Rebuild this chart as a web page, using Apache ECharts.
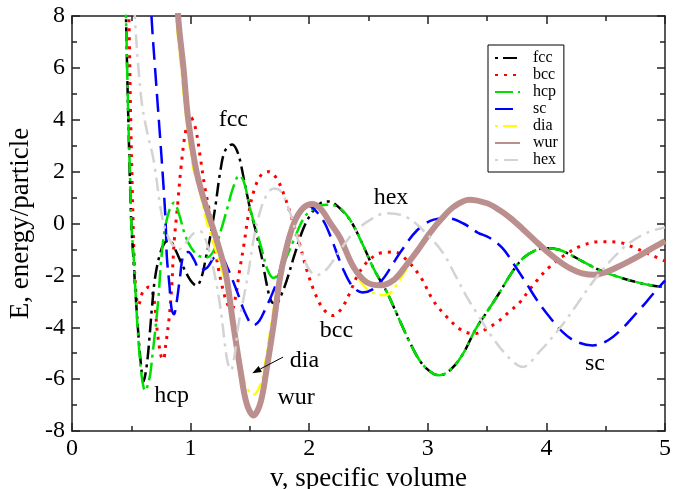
<!DOCTYPE html>
<html>
<head>
<meta charset="UTF-8">
<script type="text/javascript" src="https://cdn.jsdelivr.net/npm/echarts@6/dist/echarts.min.js"></script>
<title>E vs v</title>
<style>body{margin:0;background:#fff;}</style>
</head>
<body>
	<div id="main" style="width:692px;height:489px;"></div>
	<script type="text/javascript">
		// [v, E] pairs
		var fcc = [[0.44,11],[0.455,8],[0.475,4],[0.50,0],[0.52,-1.5],[0.54,-3],[0.565,-4.6],[0.585,-5.6],[0.60,-6.1],[0.615,-5.9],[0.635,-5.3],[0.655,-4.3],[0.675,-3.2],[0.70,-2.1],[0.74,-1.2],[0.78,-0.75],[0.82,-0.65],[0.87,-1.0],[0.93,-1.6],[1.0,-2.2],[1.05,-2.4],[1.09,-2.1],[1.13,-1.3],[1.17,-0.4],[1.21,0.7],[1.25,2.0],[1.29,2.8],[1.35,3.05],[1.40,2.7],[1.45,1.7],[1.5,0.6],[1.55,-0.3],[1.60,-1.3],[1.64,-2.3],[1.68,-3.0],[1.72,-3.1],[1.76,-2.8],[1.81,-2.2],[1.88,-1.15],[1.95,-0.2],[2.02,0.4],[2.1,0.8],[2.17,0.85]];
		var hcp = [[0.435,11],[0.455,8],[0.475,4],[0.49,1.7],[0.50,0],[0.52,-1.3],[0.535,-2.6],[0.56,-4.5],[0.585,-5.8],[0.605,-6.35],[0.62,-6.45],[0.64,-6.2],[0.66,-5.8],[0.68,-5.0],[0.70,-4.2],[0.73,-2.8],[0.75,-1.5],[0.78,-0.3],[0.82,0.5],[0.86,0.8],[0.9,0.4],[0.95,-0.4],[1.0,-0.9],[1.07,-1.25],[1.14,-1.3],[1.2,-1.0],[1.26,-0.2],[1.31,0.6],[1.36,1.4],[1.41,1.85],[1.45,1.6],[1.5,0.6],[1.55,-0.2],[1.6,-1.0],[1.65,-1.8],[1.7,-2.1],[1.75,-1.9],[1.8,-1.4],[1.87,-0.64],[1.96,0.25],[2.05,0.6],[2.14,0.72]];
		// fcc and hcp lie on top of each other beyond v ~ 2.2
		var fccHcpTail = [[2.25,0.62],[2.35,0.1],[2.45,-0.8],[2.55,-1.8],[2.65,-2.6],[2.75,-3.6],[2.85,-4.6],[2.95,-5.4],[3.05,-5.8],[3.1,-5.85],[3.2,-5.6],[3.3,-5.0],[3.4,-4.1],[3.5,-3.4],[3.6,-2.7],[3.7,-1.95],[3.8,-1.35],[3.9,-1.05],[4.0,-0.95],[4.1,-1.0],[4.2,-1.2],[4.3,-1.45],[4.45,-1.8],[4.6,-2.05],[4.75,-2.25],[4.9,-2.4],[5.0,-2.45]];
		var bcc = [[0.465,11],[0.48,8],[0.495,4],[0.51,1],[0.525,-1.5],[0.54,-2.7],[0.56,-3.15],[0.6,-2.6],[0.65,-2.45],[0.69,-2.9],[0.72,-4.2],[0.75,-5.1],[0.77,-5.25],[0.79,-4.7],[0.82,-3.6],[0.84,-2.5],[0.86,-0.8],[0.89,0.7],[0.92,2.2],[0.96,3.6],[1.0,4.1],[1.04,3.7],[1.08,2.6],[1.12,1.4],[1.17,0.2],[1.21,-1.1],[1.26,-2.3],[1.31,-3.1],[1.35,-3.3],[1.38,-2.8],[1.41,-1.9],[1.45,-0.8],[1.49,0.4],[1.54,1.35],[1.6,1.9],[1.66,2.0],[1.73,1.7],[1.8,0.95],[1.86,0.1],[1.92,-0.8],[1.98,-1.8],[2.05,-2.7],[2.12,-3.3],[2.2,-3.55],[2.27,-3.3],[2.34,-2.7],[2.42,-1.9],[2.52,-1.35],[2.62,-1.12],[2.72,-1.1],[2.82,-1.4],[2.94,-2.07],[3.05,-3.0],[3.16,-3.6],[3.28,-4.1],[3.39,-4.25],[3.5,-4.05],[3.6,-3.75],[3.7,-3.35],[3.77,-3.07],[3.85,-2.6],[3.92,-2.2],[4.02,-1.7],[4.16,-1.2],[4.3,-0.85],[4.45,-0.7],[4.6,-0.72],[4.75,-0.95],[4.9,-1.25],[5.0,-1.45]];
		var sc = [[0.64,11],[0.67,8],[0.70,6.0],[0.74,3.5],[0.77,1.55],[0.79,0],[0.80,-1.3],[0.82,-2.3],[0.84,-3.3],[0.86,-3.5],[0.88,-3.1],[0.91,-2.1],[0.94,-1.2],[0.98,-1.1],[1.03,-1.4],[1.08,-1.8],[1.14,-1.7],[1.2,-1.3],[1.25,-1.25],[1.31,-1.7],[1.39,-2.6],[1.46,-3.45],[1.53,-3.93],[1.58,-3.75],[1.63,-3.3],[1.68,-2.8],[1.73,-2.2],[1.79,-1.1],[1.84,-0.25],[1.91,0.43],[1.97,0.7],[2.03,0.6],[2.12,0.1],[2.18,-0.5],[2.29,-1.8],[2.37,-2.45],[2.45,-2.66],[2.53,-2.55],[2.62,-2.15],[2.70,-1.6],[2.77,-1.1],[2.91,-0.26],[3.05,0.15],[3.17,0.2],[3.3,0.0],[3.42,-0.35],[3.52,-0.55],[3.63,-0.95],[3.73,-1.6],[3.83,-2.3],[3.92,-2.95],[4.0,-3.45],[4.14,-4.2],[4.25,-4.55],[4.39,-4.7],[4.52,-4.5],[4.64,-4.05],[4.75,-3.5],[4.84,-3.04],[4.92,-2.6],[5.0,-2.2]];
		var dia = [[0.86,11],[0.88,8],[0.92,6.0],[0.96,4.2],[1.02,2.2],[1.08,1.2],[1.14,0],[1.19,-0.7],[1.25,-1.6],[1.30,-2.4],[1.36,-3.9],[1.42,-5.4],[1.47,-6.3],[1.53,-6.6],[1.58,-6.3],[1.62,-5.6],[1.68,-3.9],[1.74,-2.2],[1.80,-1.0],[1.87,0.05],[1.95,0.6],[2.03,0.78],[2.1,0.6],[2.18,0.0],[2.26,-0.6],[2.37,-1.7],[2.46,-2.4],[2.55,-2.7],[2.62,-2.76],[2.68,-2.7],[2.76,-2.2],[2.84,-1.6],[2.92,-1.0],[3.0,-0.5],[3.1,0.1],[3.2,0.55],[3.3,0.8],[3.38,0.85],[3.5,0.72],[3.6,0.48],[3.7,0.15],[3.8,-0.25],[3.9,-0.65],[4.0,-1.05],[4.1,-1.4],[4.2,-1.68],[4.3,-1.85],[4.4,-1.92],[4.5,-1.85],[4.6,-1.65],[4.7,-1.42],[4.8,-1.18],[4.9,-0.92],[5.0,-0.68]];
		var wur = [[0.87,11],[0.895,8],[0.94,6.0],[0.98,4.0],[1.05,2.0],[1.12,0.8],[1.19,-0.2],[1.25,-1.1],[1.30,-2.0],[1.36,-3.9],[1.42,-5.65],[1.47,-6.9],[1.53,-7.4],[1.59,-6.9],[1.64,-5.65],[1.70,-3.9],[1.75,-2.2],[1.80,-1.1],[1.87,0.0],[1.95,0.6],[2.03,0.75],[2.1,0.55],[2.18,0.0],[2.26,-0.55],[2.37,-1.65],[2.48,-2.25],[2.6,-2.38],[2.72,-2.15],[2.82,-1.6],[2.92,-1.0],[3.02,-0.35],[3.12,0.2],[3.22,0.65],[3.35,0.92],[3.5,0.78],[3.6,0.53],[3.7,0.2],[3.8,-0.21],[3.9,-0.64],[4.0,-1.06],[4.1,-1.43],[4.2,-1.73],[4.3,-1.92],[4.4,-1.98],[4.5,-1.88],[4.6,-1.68],[4.7,-1.45],[4.8,-1.2],[4.9,-0.93],[5.0,-0.68]];
		var hex = [[0.51,11],[0.53,8],[0.56,6.0],[0.59,4.6],[0.63,3.6],[0.69,2.4],[0.75,0.5],[0.8,-0.4],[0.86,-0.9],[0.9,-1.0],[0.96,-0.75],[1.02,-0.4],[1.08,-0.3],[1.14,-0.8],[1.2,-1.9],[1.25,-3.2],[1.28,-4.3],[1.31,-5.3],[1.34,-5.65],[1.37,-5.1],[1.40,-4.0],[1.45,-2.8],[1.49,-1.8],[1.53,-0.64],[1.57,0.2],[1.63,1.0],[1.7,1.35],[1.76,1.25],[1.84,0.4],[1.92,-0.84],[1.99,-1.7],[2.06,-2.0],[2.15,-1.75],[2.26,-1.03],[2.37,-0.38],[2.51,0.13],[2.65,0.4],[2.82,0.25],[2.99,-0.4],[3.13,-1.15],[3.24,-2.07],[3.33,-2.84],[3.41,-3.43],[3.55,-4.43],[3.69,-5.2],[3.8,-5.53],[3.94,-4.95],[4.11,-4.05],[4.27,-3.04],[4.39,-2.26],[4.56,-1.34],[4.7,-0.75],[4.85,-0.35],[5.0,-0.15]];

		var xTicks = [0, 1, 2, 3, 4, 5];
		var yTicks = [-8, -6, -4, -2, 0, 2, 4, 6, 8];

		// text labels on the plot, placed in data units
		var notes = [
			{text:'fcc', at:[1.36, 4.02]},
			{text:'hex', at:[2.69, 1.01]},
			{text:'bcc', at:[2.23, -4.15]},
			{text:'dia', at:[1.96, -5.28]},
			{text:'hcp', at:[0.84, -6.62]},
			{text:'wur', at:[1.89, -6.70]},
			{text:'sc',  at:[4.41, -5.42]}
		];
		var arrowFrom = [1.78, -5.15], arrowTo = [1.52, -5.77];

		var serif = 'Liberation Serif';
		var myChart = echarts.init(document.getElementById("main"));

		function axisX(pos, labels) {
			return {
				type:'value', position:pos, min:xTicks[0], max:xTicks[xTicks.length-1], interval:1,
				axisLine:{show:true, onZero:false, lineStyle:{color:'#222', width:1.5}},
				axisTick:{show:true, inside:true, length:8, lineStyle:{color:'#222', width:1.5}},
				minorTick:{show:true, splitNumber:2, length:5, lineStyle:{color:'#222', width:1.5}},
				splitLine:{show:false},
				axisLabel:{show:labels, color:'#000', fontFamily:serif, fontSize:24, margin:6},
				name: labels ? 'v, specific volume' : '', nameLocation:'middle', nameGap:31,
				nameTextStyle:{color:'#000', fontFamily:serif, fontSize:27}
			};
		}
		function axisY(pos, labels) {
			return {
				type:'value', position:pos, min:yTicks[0], max:yTicks[yTicks.length-1], interval:2,
				axisLine:{show:true, onZero:false, lineStyle:{color:'#222', width:1.5}},
				axisTick:{show:true, inside:true, length:8, lineStyle:{color:'#222', width:1.5}},
				minorTick:{show:true, splitNumber:2, length:5, lineStyle:{color:'#222', width:1.5}},
				splitLine:{show:false},
				axisLabel:{show:labels, color:'#000', fontFamily:serif, fontSize:24, margin:7},
				name: labels ? 'E, energy/particle' : '', nameLocation:'middle', nameGap:38,
				nameTextStyle:{color:'#000', fontFamily:serif, fontSize:27}
			};
		}
		function line(name, data, color, width, dash, z) {
			return {
				name:name, type:'line', data:data, smooth:0.35,
				symbol:'none', showSymbol:false, clip:true, z:z, animation:false,
				lineStyle:{color:color, width:width, type:dash},
				itemStyle:{color:color}
			};
		}

		var option = {
			animation:false,
			backgroundColor:'#fff',
			grid:{left:72, right:27, top:16, bottom:58, containLabel:false, outerBoundsMode:'none'},
			xAxis:[axisX('bottom', true), axisX('top', false)],
			yAxis:[axisY('left', true), axisY('right', false)],
			legend:{
				orient:'vertical', left:488, top:45, padding:[5,6,4,6],
				borderColor:'#000', borderWidth:1, backgroundColor:'#fff',
				itemWidth:25, itemHeight:6, itemGap:1,
				itemStyle:{opacity:0, borderWidth:0},
				textStyle:{fontFamily:serif, fontSize:16, color:'#000', padding:[0,0,0,8], lineHeight:14},
				data:['fcc','bcc','hcp','sc','dia','wur','hex']
			},
			series:[
				line('fcc', fcc.concat(fccHcpTail), '#000000', 2.5, [3,5,14,5], 3),
				line('bcc', bcc, '#ff0000', 3, [3,6], 2),
				line('hcp', hcp.concat(fccHcpTail), '#00e000', 2.5, [18,5,3,5], 4),
				line('sc', sc, '#0000ff', 2.5, [18,8], 5),
				line('dia', dia, '#ffff00', 2.5, [3,5,14,5], 6),
				line('wur', wur, '#bc8f8f', 6, 'solid', 7),
				line('hex', hex, '#d3d3d3', 2.5, [3,6,14,6], 8)
			]
		};
		myChart.setOption(option);

		var g = [];
		notes.forEach(function (n) {
			var p = myChart.convertToPixel({xAxisIndex:0, yAxisIndex:0}, n.at);
			g.push({type:'text', x:p[0], y:p[1], z:100,
				style:{text:n.text, fill:'#000', font:'24px "Liberation Serif"', align:'center', verticalAlign:'middle'}});
		});
		var a = myChart.convertToPixel({xAxisIndex:0, yAxisIndex:0}, arrowFrom);
		var b = myChart.convertToPixel({xAxisIndex:0, yAxisIndex:0}, arrowTo);
		var ang = Math.atan2(b[1]-a[1], b[0]-a[0]), h = 9, w = 3.5;
		var bx = b[0] - h*Math.cos(ang), by = b[1] - h*Math.sin(ang);
		g.push({type:'line', z:100, shape:{x1:a[0], y1:a[1], x2:bx, y2:by}, style:{stroke:'#000', lineWidth:1}});
		g.push({type:'polygon', z:100, shape:{points:[[b[0],b[1]],[bx - w*Math.sin(ang), by + w*Math.cos(ang)],[bx + w*Math.sin(ang), by - w*Math.cos(ang)]]}, style:{fill:'#000'}});
		myChart.setOption({graphic:g});
	</script>
</body>
</html>
